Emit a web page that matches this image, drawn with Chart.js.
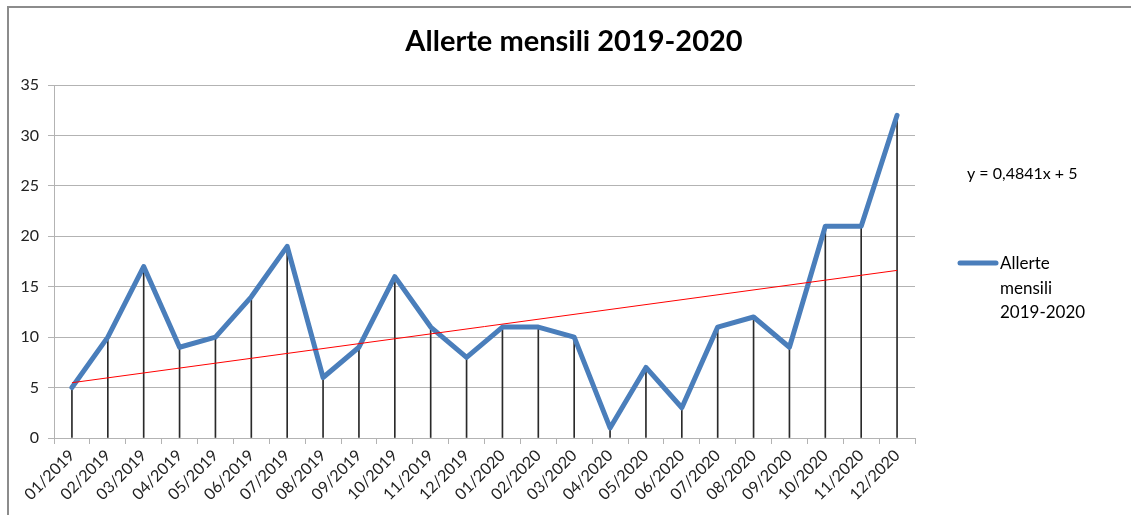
<!DOCTYPE html>
<html>
<head>
<meta charset="utf-8">
<script src="https://cdn.jsdelivr.net/npm/chart.js@4/dist/chart.umd.min.js"></script>
<style>
  html, body { margin: 0; padding: 0; background: #fff; }
  #wrap { position: relative; width: 1131px; height: 515px; overflow: hidden; }
  #frameTop { position: absolute; left: 8px; top: 6px; width: 1123px; height: 0; border-top: 2px solid #8c8c8c; }
  #frameLeft { position: absolute; left: 7px; top: 6px; width: 0; height: 509px; border-left: 2px solid #8c8c8c; }
  canvas { position: absolute; left: 0; top: 0; }
</style>
</head>
<body>
<div id="wrap">
  <canvas id="c" width="1131" height="515"></canvas>
  <div id="frameTop"></div>
  <div id="frameLeft"></div>
</div>
<script>
const titleText = 'Allerte mensili 2019-2020';
const seriesLabel = 'Allerte mensili 2019-2020';
const legendLines = ['Allerte', 'mensili', '2019-2020'];
const equationText = 'y = 0,4841x + 5';
const months = ['01/2019','02/2019','03/2019','04/2019','05/2019','06/2019','07/2019','08/2019','09/2019','10/2019','11/2019','12/2019',
                '01/2020','02/2020','03/2020','04/2020','05/2020','06/2020','07/2020','08/2020','09/2020','10/2020','11/2020','12/2020'];
const alerts = [5, 10, 17, 9, 10, 14, 19, 6, 9, 16, 11, 8, 11, 11, 10, 1, 7, 3, 11, 12, 9, 21, 21, 32];
// trendline endpoints (first and last month)
const trendStart = 5.48;
const trendEnd = 16.62;
const yTicks = [0, 5, 10, 15, 20, 25, 30, 35];

const trendData = months.map((m, i) => i === 0 ? trendStart : (i === months.length - 1 ? trendEnd : null));

const FONT = 'Lato, "Open Sans", sans-serif';
const BLUE = '#4a7ebb';

const overlay = {
  id: 'overlay',
  afterDraw(chart) {
    const ctx = chart.ctx;
    ctx.save();
    // title
    ctx.fillStyle = '#000';
    ctx.font = 'bold 29px ' + FONT;
    ctx.textAlign = 'center';
    ctx.textBaseline = 'middle';
    ctx.fillText(titleText, 574, 42);
    // equation
    ctx.font = '16px ' + FONT;
    ctx.textAlign = 'left';
    ctx.fillText(equationText, 967, 174);
    // legend
    ctx.strokeStyle = BLUE;
    ctx.lineWidth = 5;
    ctx.lineCap = 'round';
    ctx.beginPath();
    ctx.moveTo(960, 263);
    ctx.lineTo(996, 263);
    ctx.stroke();
    ctx.font = '17px ' + FONT;
    legendLines.forEach((t, i) => ctx.fillText(t, 1000, 264 + i * 24.5));
    ctx.restore();
  }
};

new Chart(document.getElementById('c'), {
  data: {
    labels: months,
    datasets: [
      {
        type: 'line',
        label: 'Tendenza',
        data: trendData,
        borderColor: '#ff0000',
        borderWidth: 1,
        pointRadius: 0,
        spanGaps: true,
        order: 0
      },
      {
        type: 'line',
        label: seriesLabel,
        data: alerts,
        borderColor: BLUE,
        borderWidth: 5,
        borderCapStyle: 'round',
        borderJoinStyle: 'round',
        pointRadius: 0,
        tension: 0,
        order: 1
      },
      {
        type: 'bar',
        label: 'drop',
        data: alerts,
        backgroundColor: '#2a2a2a',
        barThickness: 1,
        order: 2
      }
    ]
  },
  options: {
    responsive: false,
    animation: false,
    events: [],
    layout: { padding: { top: 85, right: 216, left: 0, bottom: 0 } },
    plugins: {
      legend: { display: false },
      title: { display: false },
      tooltip: { enabled: false }
    },
    scales: {
      x: {
        type: 'category',
        offset: true,
        grid: { display: true, offset: true, drawOnChartArea: false, drawTicks: true, tickLength: 6, color: '#b3b3b3' },
        border: { display: true, color: '#b3b3b3', width: 1 },
        ticks: { minRotation: 45, maxRotation: 45, autoSkip: false, padding: 2, color: '#222', font: { family: FONT, size: 16 } },
        afterFit(s) { s.height = 77; }
      },
      y: {
        min: 0,
        max: 35,
        afterBuildTicks(s) { s.ticks = yTicks.map(v => ({ value: v })); },
        grid: { color: '#b3b3b3', tickLength: 6 },
        border: { display: true, color: '#b3b3b3', width: 1 },
        ticks: { padding: 9, color: '#222', font: { family: FONT, size: 16 } },
        afterFit(s) { s.width = 54; }
      }
    }
  },
  plugins: [overlay]
});
</script>
</body>
</html>
